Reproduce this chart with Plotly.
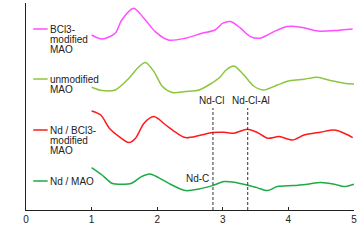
import plotly.graph_objects as go

# ---- data (offset G(r) curves) ----
r_bcl3_mao = [1.0, 1.16, 1.36, 1.46, 1.64, 1.82, 1.97, 2.17, 2.43, 2.68, 2.88, 3.0, 3.12, 3.27, 3.42, 3.57, 3.78, 3.98, 4.19, 4.45, 4.70, 4.98]
g_bcl3_mao = [8.75, 8.55, 8.84, 9.5, 10.09, 9.5, 8.92, 8.5, 8.59, 8.84, 9.0, 9.34, 9.42, 9.09, 8.67, 8.59, 8.92, 9.17, 9.14, 8.95, 8.97, 9.05]

r_mao = [1.0, 1.16, 1.36, 1.57, 1.70, 1.82, 1.95, 2.08, 2.23, 2.43, 2.64, 2.81, 2.96, 3.05, 3.17, 3.32, 3.47, 3.62, 3.83, 4.03, 4.24, 4.44, 4.64, 4.85, 5.0]
g_mao = [6.14, 5.97, 6.0, 6.59, 7.09, 7.37, 6.92, 6.17, 5.87, 5.92, 6.0, 6.3, 6.65, 7.0, 7.2, 6.75, 6.2, 6.0, 6.25, 6.47, 6.54, 6.64, 6.47, 6.34, 6.3]

r_nd_bcl3 = [1.0, 1.14, 1.27, 1.42, 1.57, 1.67, 1.80, 1.95, 2.13, 2.28, 2.43, 2.64, 2.84, 3.02, 3.17, 3.37, 3.52, 3.68, 3.86, 4.06, 4.24, 4.49, 4.70, 4.85, 4.98]
g_nd_bcl3 = [4.95, 4.75, 4.09, 3.67, 3.37, 3.59, 4.34, 4.67, 4.25, 3.89, 3.62, 3.72, 3.87, 3.89, 3.84, 4.04, 3.89, 3.59, 3.67, 3.5, 3.75, 3.89, 4.0, 3.84, 3.62]

r_nd_mao = [1.0, 1.16, 1.31, 1.46, 1.61, 1.76, 1.89, 2.02, 2.17, 2.43, 2.64, 2.84, 3.02, 3.17, 3.37, 3.52, 3.68, 3.83, 4.08, 4.29, 4.49, 4.70, 4.85, 5.0]
g_nd_mao = [2.12, 1.75, 1.34, 1.29, 1.34, 1.67, 1.8, 1.62, 1.34, 0.97, 1.05, 1.22, 1.42, 1.39, 1.25, 1.12, 0.97, 1.17, 1.22, 1.29, 1.37, 1.29, 1.17, 1.29]

series_colors = ["#ff4dff", "#8cc63f", "#ff1a1a", "#1eaa46"]
legend_lines = [["BCl3-", "modified", "MAO"], ["unmodified", "MAO"],
                ["Nd / BCl3-", "modified", "MAO"], ["Nd / MAO"]]
legend_y = [9.05, 6.55, 4.0, 1.45]

bond_r = [2.85, 3.38]
bond_labels = ["Nd-Cl", "Nd-Cl-Al"]
bond_label_r = [2.84, 3.43]
ndc_label = "Nd-C"

x_ticks = [0, 1, 2, 3, 4, 5]

FONT = "Liberation Sans, Arial, Helvetica, sans-serif"
TXT = "#222222"
FS = 10

fig = go.Figure()
for rr, gg, c in zip([r_bcl3_mao, r_mao, r_nd_bcl3, r_nd_mao],
                     [g_bcl3_mao, g_mao, g_nd_bcl3, g_nd_mao], series_colors):
    fig.add_trace(go.Scatter(x=rr, y=gg, mode="lines",
                             line=dict(color=c, width=1.5, shape="spline", smoothing=0.8),
                             showlegend=False, hoverinfo="skip"))

shapes = []
annotations = []
line_step = 0.5  # ~10 px between label lines
for lines, y0, c in zip(legend_lines, legend_y, series_colors):
    shapes.append(dict(type="line", xref="x", yref="y", x0=0.11, x1=0.33, y0=y0, y1=y0,
                       line=dict(color=c, width=1.5)))
    for i, t in enumerate(lines):
        annotations.append(dict(x=0.34, y=y0 - i * line_step, xref="x", yref="y", text=t,
                                showarrow=False, xanchor="left", yanchor="middle",
                                font=dict(family=FONT, size=FS, color=TXT)))

for br, bl, blr in zip(bond_r, bond_labels, bond_label_r):
    shapes.append(dict(type="line", xref="x", yref="y", x0=br, x1=br, y0=0, y1=5.1,
                       line=dict(color="#333333", width=1, dash="3px,2px")))
    annotations.append(dict(x=blr, y=5.5, xref="x", yref="y", text=bl, showarrow=False,
                            xanchor="center", yanchor="middle",
                            font=dict(family=FONT, size=FS, color=TXT)))
annotations.append(dict(x=2.61, y=1.6, xref="x", yref="y", text=ndc_label, showarrow=False,
                        xanchor="center", yanchor="middle",
                        font=dict(family=FONT, size=FS, color=TXT)))

# axis titles
annotations.append(dict(x=-0.16, y=5.8, xref="x", yref="y", text="G(<i>r</i>) [Å<sup>-2</sup>]",
                        showarrow=False, textangle=-90, xanchor="center", yanchor="middle",
                        font=dict(family=FONT, size=FS, color=TXT)))
annotations.append(dict(x=2.5, y=-1.1, xref="x", yref="y", text="<i>r</i> [Å]",
                        showarrow=False, xanchor="center", yanchor="middle",
                        font=dict(family=FONT, size=FS, color=TXT)))

fig.update_layout(
    width=359, height=241,
    margin=dict(l=26, r=5, t=3, b=31),
    paper_bgcolor="white", plot_bgcolor="white",
    shapes=shapes, annotations=annotations,
    font=dict(family=FONT, size=FS, color=TXT),
)
fig.update_xaxes(range=[0, 5], tickvals=x_ticks, ticks="inside", ticklen=3,
                 tickcolor="#222", showline=True, linecolor="#222", linewidth=1,
                 showgrid=False, zeroline=False, tickfont=dict(size=FS, color=TXT),
                 automargin=False)
fig.update_yaxes(range=[0, 10.35], showticklabels=False, ticks="", showline=True,
                 linecolor="#222", linewidth=1, showgrid=False, zeroline=False,
                 automargin=False)

fig.write_html("out.html", config={"displayModeBar": False},
               post_script="document.body.style.margin='0';document.body.style.overflow='hidden';")
